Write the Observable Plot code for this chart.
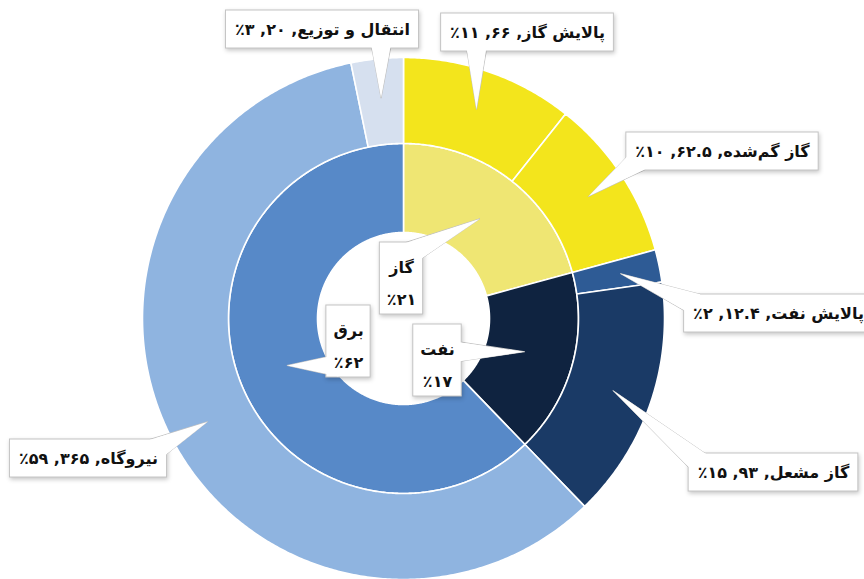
<!DOCTYPE html>
<html><head><meta charset="utf-8">
<script src="https://cdn.jsdelivr.net/npm/d3@7"></script>
<script src="https://cdn.jsdelivr.net/npm/@observablehq/plot@0.6"></script>
<style>
html,body{margin:0;padding:0;background:#fff;}
#chart text{direction:rtl;}
#chart g[aria-label="rect"] rect{filter:drop-shadow(1px 2px 2px rgba(0,0,0,0.22));}
</style></head><body><div id="chart"></div>
<script>
// ---- data ----
const innerCats = ["گاز", "نفت", "برق"];
const innerPct = [21, 17, 62];
const outerCats = ["پالایش گاز", "گاز گم‌شده", "پالایش نفت", "گاز مشعل", "نیروگاه", "انتقال و توزیع"];
const outerParent = ["گاز", "گاز", "نفت", "نفت", "برق", "برق"];
const outerValues = [66, 62.5, 12.4, 93, 365, 20];
const outerPct = [11, 10, 2, 15, 59, 3];

// ---- style / layout ----
const innerColors = ["#EFE673", "#0F2340", "#5789C8"];
const outerColors = ["#F3E51C", "#F3E51C", "#2E5B95", "#1A3A66", "#8FB4E0", "#D6E0EF"];
const W = 864, H = 579, CX = 403, CY = 318, R = 261;
const rHole = 86 / R, rMid = 175 / R, rOut = 1;
// label box centers (px) : outer labels then inner labels
const outerBoxPos = [[527, 32], [722, 151], [778, 313], [773, 472], [88, 458], [322, 29]];
const innerBoxPos = [[401, 278], [437, 360], [348, 341]];
const FONT = "'DejaVu Sans', 'Noto Sans', sans-serif";

const fa = v => String(v).replace(/\d/g, d => "۰۱۲۳۴۵۶۷۸۹"[d]);
const toX = px => (px - CX) / R, toY = py => (CY - py) / R;
const ctx = document.createElement("canvas").getContext("2d");
ctx.font = `bold 16px ${FONT}`;
const tw = s => d3.max(s.split("\n"), l => ctx.measureText(l).width);

// ---- geometry from data ----
const total = d3.sum(outerValues);
const outerSegs = [];
let acc = 0;
outerCats.forEach((c, i) => {
  const a0 = acc / total * 2 * Math.PI; acc += outerValues[i];
  const a1 = acc / total * 2 * Math.PI;
  outerSegs.push({id: c, a0, a1, r0: rMid, r1: rOut});
});
const innerSegs = [];
acc = 0;
innerCats.forEach(c => {
  const a0 = acc / total * 2 * Math.PI;
  acc += d3.sum(outerValues.filter((v, i) => outerParent[i] === c));
  const a1 = acc / total * 2 * Math.PI;
  innerSegs.push({id: c, a0, a1, r0: rHole, r1: rMid});
});
function arcPoly(s) {
  const n = Math.max(2, Math.ceil((s.a1 - s.a0) / (Math.PI / 360)));
  const pts = [];
  for (let i = 0; i <= n; i++) { const a = s.a0 + (s.a1 - s.a0) * i / n; pts.push({id: s.id, x: s.r1 * Math.sin(a), y: s.r1 * Math.cos(a)}); }
  for (let i = n; i >= 0; i--) { const a = s.a0 + (s.a1 - s.a0) * i / n; pts.push({id: s.id, x: s.r0 * Math.sin(a), y: s.r0 * Math.cos(a)}); }
  return pts;
}
const arcPts = [...innerSegs, ...outerSegs].flatMap(arcPoly);

// labels
const labels = [];
outerSegs.forEach((s, i) => {
  const text = `${outerCats[i]}, ${fa(outerValues[i])}, ${fa(outerPct[i])}٪`;
  const w = tw(text) + 18, h = 38;
  labels.push({id: "L" + i, text, inner: false, tipR: 0.85, seg: s, cx: outerBoxPos[i][0], cy: outerBoxPos[i][1], w, h});
});
innerSegs.forEach((s, i) => {
  const text = `${innerCats[i]}\n٪${fa(innerPct[i])}`;
  const w = tw(text) + 14, h = 72;
  labels.push({id: "I" + i, text, inner: true, tipR: 0.48, seg: s, cx: innerBoxPos[i][0], cy: innerBoxPos[i][1], w, h});
});
const pointerPts = [];
labels.forEach(l => {
  const am = (l.seg.a0 + l.seg.a1) / 2;
  const tx = CX + l.tipR * R * Math.sin(am), ty = CY - l.tipR * R * Math.cos(am);
  const bx = Math.max(l.cx - l.w / 2 + 12, Math.min(l.cx + l.w / 2 - 12, tx));
  const by = Math.max(l.cy - l.h / 2 + 10, Math.min(l.cy + l.h / 2 - 10, ty));
  const dx = tx - bx, dy = ty - by, d = Math.hypot(dx, dy) || 1;
  const px = -dy / d * 11, py = dx / d * 11;
  pointerPts.push({id: l.id, x: toX(tx), y: toY(ty)});
  pointerPts.push({id: l.id, x: toX(bx + px), y: toY(by + py)});
  pointerPts.push({id: l.id, x: toX(bx - px), y: toY(by - py)});
  l.x = toX(l.cx); l.y = toY(l.cy);
  l.x1 = toX(l.cx - l.w / 2); l.x2 = toX(l.cx + l.w / 2);
  l.y1 = toY(l.cy - l.h / 2); l.y2 = toY(l.cy + l.h / 2);
});

const chart = Plot.plot({
  width: W, height: H, margin: 0,
  x: {domain: [toX(0), toX(W)], axis: null},
  y: {domain: [toY(H), toY(0)], axis: null},
  color: {domain: [...innerCats, ...outerCats], range: [...innerColors, ...outerColors]},
  marks: [
    Plot.line(arcPts, {x: "x", y: "y", z: "id", fill: "id", stroke: "white", strokeWidth: 1.6, curve: "linear-closed"}),
    Plot.line(pointerPts, {x: "x", y: "y", z: "id", fill: "white", stroke: "#c4c4c4", strokeWidth: 1, curve: "linear-closed"}),
    Plot.rect(labels, {x1: "x1", x2: "x2", y1: "y1", y2: "y2", fill: "white", stroke: "#c4c4c4", strokeWidth: 1}),
    Plot.line(pointerPts, {x: "x", y: "y", z: "id", fill: "white", stroke: "none", curve: "linear-closed"}),
    Plot.text(labels.filter(l => !l.inner), {x: "x", y: "y", text: "text", fontSize: 16, fontWeight: "bold", fontFamily: FONT, fill: "#111"}),
    Plot.text(labels.filter(l => l.inner), {x: "x", y: "y", text: "text", fontSize: 16, fontWeight: "bold", fontFamily: FONT, fill: "#111", lineHeight: 2})
  ]
});
document.getElementById("chart").appendChild(chart);
</script></body></html>
